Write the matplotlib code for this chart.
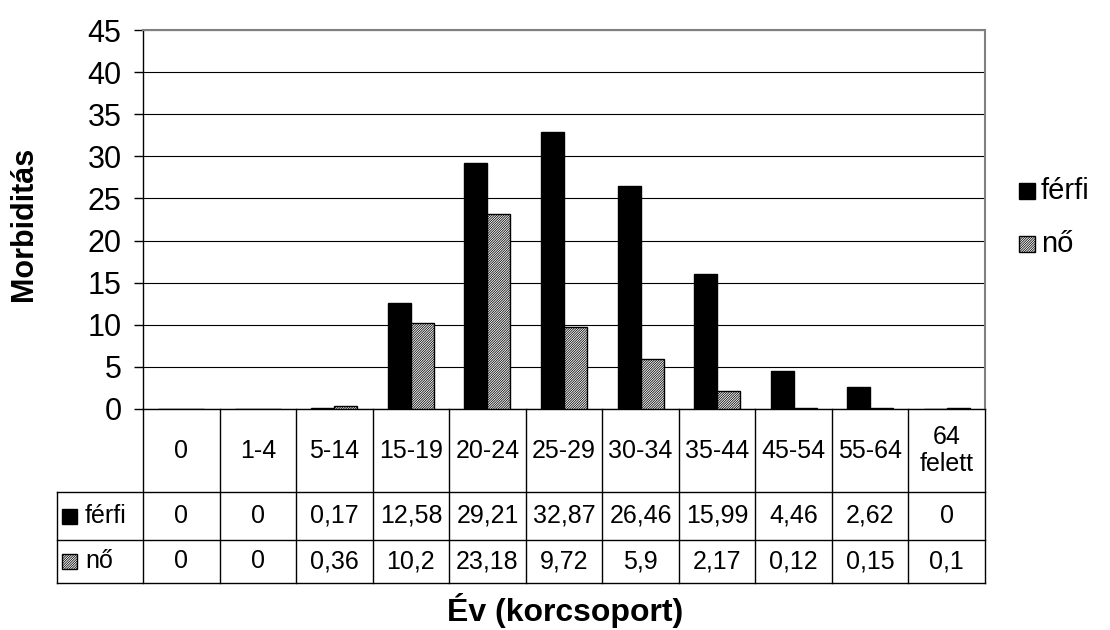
import numpy as np
import matplotlib.pyplot as plt
from matplotlib.patches import Rectangle

plt.rcParams['font.family'] = ['Liberation Sans', 'DejaVu Sans']
plt.rcParams['hatch.linewidth'] = 0.55
plt.rcParams['hatch.color'] = 'black'

groups = ['0', '1-4', '5-14', '15-19', '20-24', '25-29', '30-34',
          '35-44', '45-54', '55-64', '64\nfelett']
ferfi = [0, 0, 0.17, 12.58, 29.21, 32.87, 26.46, 15.99, 4.46, 2.62, 0]
no = [0, 0, 0.36, 10.2, 23.18, 9.72, 5.9, 2.17, 0.12, 0.15, 0.1]
series = ['férfi', 'nő']
yticks = list(range(0, 50, 5))

W, H = 1110, 630
L, R, T, B = 143, 985, 30, 409   # plot area in pixels
HATCH = '/' * 14


def fmt(v):
    return f"{v:g}".replace('.', ',')


fig = plt.figure(figsize=(W / 100, H / 100), dpi=100)
ax = fig.add_axes([L / W, 1 - B / H, (R - L) / W, (B - T) / H])

x = np.arange(len(groups))
w = 0.3
ax.bar(x - w / 2, ferfi, w, color='black', edgecolor='black', lw=1, zorder=3)
ax.bar(x + w / 2, no, w, color='white', edgecolor='black', hatch=HATCH,
       lw=1, zorder=3)

ax.set_xlim(-0.5, len(groups) - 0.5)
ax.set_ylim(0, 45)
ax.set_yticks(yticks)
ax.yaxis.grid(True, color='black', lw=0.8)
ax.set_axisbelow(True)
ax.tick_params(axis='x', length=0, labelbottom=False)
ax.tick_params(axis='y', length=6.5, width=1, labelsize=22, pad=9)
for s in ('top', 'right'):
    ax.spines[s].set_color('#808080')
    ax.spines[s].set_linewidth(1.5)
for s in ('left', 'bottom'):
    ax.spines[s].set_linewidth(1)

# data table under the plot
trans = ax.get_xaxis_transform()
ah = B - T
cw = (R - L) / len(groups)
y_h, y_1, y_2 = -83 / ah, -131 / ah, -174 / ah
x_left = -0.5 - 86 / cw
kw = dict(transform=trans, clip_on=False, color='black', lw=1)
for k in range(len(groups) + 1):
    ax.plot([k - 0.5, k - 0.5], [0, y_2], **kw)
for yy in (y_h, y_1, y_2):
    ax.plot([x_left, len(groups) - 0.5], [yy, yy], **kw)
ax.plot([x_left, x_left], [y_h, y_2], **kw)

tkw = dict(transform=trans, ha='center', va='center', fontsize=18)
for i, g in enumerate(groups):
    ax.text(i, y_h / 2, g, linespacing=1.15, **tkw)
    ax.text(i, (y_h + y_1) / 2, fmt(ferfi[i]), **tkw)
    ax.text(i, (y_1 + y_2) / 2, fmt(no[i]), **tkw)

sq_w, sq_h = 15 / cw, 15 / ah
styles = [dict(facecolor='black', edgecolor='black'),
          dict(facecolor='white', edgecolor='black', hatch=HATCH)]
for yc, name, st in zip([(y_h + y_1) / 2, (y_1 + y_2) / 2], series, styles):
    ax.add_patch(Rectangle((x_left + 5 / cw, yc - sq_h / 2), sq_w, sq_h,
                           transform=trans, clip_on=False, lw=1, **st))
    ax.text(x_left + 28 / cw, yc, name, transform=trans, ha='left',
            va='center', fontsize=18)

# legend on the right
for yc, name, st in zip([191, 244], series, styles):
    fig.add_artist(Rectangle((1019 / W, 1 - (yc + 8) / H), 16 / W, 16 / H,
                             transform=fig.transFigure, lw=1, **st))
    fig.text(1041 / W, 1 - yc / H, name, ha='left', va='center', fontsize=21)

fig.text(24 / W, 1 - 224 / H, 'Morbiditás', rotation=90, ha='center',
         va='center', fontsize=22, fontweight='bold')
fig.text(565 / W, 1 - 610 / H, 'Év (korcsoport)', ha='center', va='center',
         fontsize=23, fontweight='bold')

fig.savefig('out.png', dpi=100)
